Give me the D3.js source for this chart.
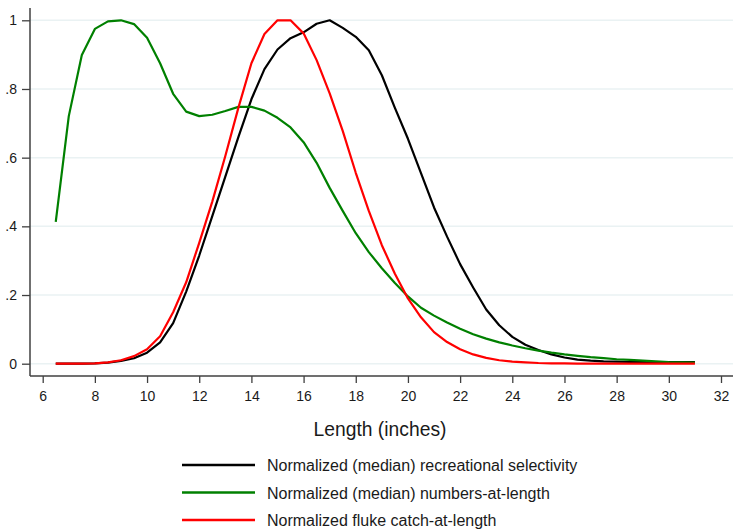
<!DOCTYPE html>
<html>
<head>
<meta charset="utf-8">
<script src="https://cdn.jsdelivr.net/npm/d3@7"></script>
<style>
    body { margin: 0; background: #fff; }
    text { font-family: "Liberation Sans", Arial, sans-serif; fill: #1a1a1a; }
</style>
</head>
<body>
<div id="chart"></div>
<script>
// lengths in inches (one point every half inch)
var lengths = [6.5, 7, 7.5, 8, 8.5, 9, 9.5, 10, 10.5, 11, 11.5, 12, 12.5, 13, 13.5, 14, 14.5, 15, 15.5, 16,
    16.5, 17, 17.5, 18, 18.5, 19, 19.5, 20, 20.5, 21, 21.5, 22, 22.5, 23, 23.5, 24, 24.5, 25, 25.5, 26,
    26.5, 27, 27.5, 28, 28.5, 29, 29.5, 30, 30.5, 31];

var selectivity = [0, 0, 0.0005, 0.001, 0.003, 0.008, 0.016, 0.032, 0.062, 0.118, 0.21, 0.315, 0.43, 0.545, 0.66, 0.77, 0.858, 0.915, 0.948, 0.965,
    0.99, 1.0, 0.978, 0.952, 0.913, 0.84, 0.745, 0.655, 0.555, 0.455, 0.37, 0.29, 0.222, 0.158, 0.112, 0.078, 0.055, 0.04, 0.027, 0.018,
    0.012, 0.009, 0.007, 0.006, 0.005, 0.005, 0.005, 0.005, 0.005, 0.005];

var numbersAtLength = [0.413, 0.721, 0.899, 0.975, 0.997, 1.0, 0.989, 0.949, 0.875, 0.786, 0.734, 0.721, 0.725, 0.736, 0.748, 0.748, 0.737, 0.716, 0.688, 0.645,
    0.585, 0.512, 0.445, 0.38, 0.325, 0.278, 0.235, 0.196, 0.163, 0.14, 0.12, 0.102, 0.086, 0.073, 0.062, 0.053, 0.045, 0.038, 0.032, 0.027,
    0.023, 0.019, 0.016, 0.013, 0.011, 0.009, 0.007, 0.005, 0.004, 0.003];

var catchAtLength = [0, 0, 0.0005, 0.001, 0.004, 0.01, 0.022, 0.042, 0.08, 0.15, 0.237, 0.352, 0.472, 0.605, 0.745, 0.875, 0.96, 1.0, 1.0, 0.962,
    0.884, 0.787, 0.678, 0.556, 0.445, 0.345, 0.262, 0.19, 0.135, 0.092, 0.063, 0.042, 0.027, 0.017, 0.01, 0.006, 0.004, 0.002, 0.001, 0.001,
    0, 0, 0, 0, 0, 0, 0, 0, 0, 0];

var xTicks = [6, 8, 10, 12, 14, 16, 18, 20, 22, 24, 26, 28, 30, 32];
var yTicks = [0, 0.2, 0.4, 0.6, 0.8, 1];
var yTickLabels = ["0", ".2", ".4", ".6", ".8", "1"];

var seriesNames = [
    "Normalized (median) recreational selectivity",
    "Normalized (median) numbers-at-length",
    "Normalized fluke catch-at-length"
];
var seriesColors = ["#000000", "#008000", "#ff0000"];

var series = [selectivity, numbersAtLength, catchAtLength];

// svg params
var svgWidth = 733;
var svgHeight = 530;

var svg = d3.select("#chart").append("svg")
    .attr("width", svgWidth)
    .attr("height", svgHeight);

// plot region edges (axis lines)
var axisLeftX = 30;
var axisBottomY = 376;

var xScale = d3.scaleLinear()
    .domain([6, 32])
    .range([42.7, 721]);

var yScale = d3.scaleLinear()
    .domain([0, 1])
    .range([363.7, 20.3]);

// grid lines
svg.append("g")
    .selectAll("line")
    .data(yTicks)
    .enter()
    .append("line")
    .attr("x1", axisLeftX)
    .attr("x2", svgWidth)
    .attr("y1", d => yScale(d))
    .attr("y2", d => yScale(d))
    .attr("stroke", "#eaf2f3")
    .attr("stroke-width", 1.5);

// y axis
var yAxis = d3.axisLeft(yScale)
    .tickValues(yTicks)
    .tickFormat((d, i) => yTickLabels[i])
    .tickSize(8)
    .tickPadding(5);

var yAxisG = svg.append("g")
    .attr("transform", `translate(${axisLeftX}, 0)`)
    .call(yAxis);
yAxisG.select(".domain").remove();
yAxisG.selectAll("line").attr("stroke", "#404040").attr("stroke-width", 1.3);
yAxisG.selectAll("text").attr("font-size", 14).attr("fill", "#1a1a1a")
    .attr("font-family", "Liberation Sans, Arial, sans-serif");

svg.append("line")
    .attr("x1", axisLeftX).attr("x2", axisLeftX)
    .attr("y1", 8).attr("y2", axisBottomY)
    .attr("stroke", "#404040").attr("stroke-width", 1.5);

// x axis
var xAxis = d3.axisBottom(xScale)
    .tickValues(xTicks)
    .tickSize(7)
    .tickPadding(8);

var xAxisG = svg.append("g")
    .attr("transform", `translate(0, ${axisBottomY})`)
    .call(xAxis);
xAxisG.select(".domain").remove();
xAxisG.selectAll("line").attr("stroke", "#404040").attr("stroke-width", 1.3);
xAxisG.selectAll("text").attr("font-size", 14).attr("fill", "#1a1a1a")
    .attr("font-family", "Liberation Sans, Arial, sans-serif");

svg.append("line")
    .attr("x1", axisLeftX).attr("x2", svgWidth)
    .attr("y1", axisBottomY).attr("y2", axisBottomY)
    .attr("stroke", "#404040").attr("stroke-width", 1.5);

// axis title
svg.append("text")
    .attr("x", 380)
    .attr("y", 435.5)
    .attr("text-anchor", "middle")
    .attr("font-size", 19.3)
    .text("Length (inches)");

// lines
var line = d3.line()
    .x((d, i) => xScale(lengths[i]))
    .y(d => yScale(d));

svg.append("g")
    .selectAll("path")
    .data(series)
    .enter()
    .append("path")
    .attr("d", d => line(d))
    .attr("fill", "none")
    .attr("stroke", (d, i) => seriesColors[i])
    .attr("stroke-width", 2.2)
    .attr("stroke-linejoin", "round");

// legend
var legend = svg.append("g")
    .selectAll("g")
    .data(seriesNames)
    .enter()
    .append("g")
    .attr("transform", (d, i) => `translate(0, ${465 + i * 27.5})`);

legend.append("line")
    .attr("x1", 182)
    .attr("x2", 255)
    .attr("stroke", (d, i) => seriesColors[i])
    .attr("stroke-width", 2.5);

legend.append("text")
    .attr("x", 267)
    .attr("y", 6)
    .attr("font-size", 16)
    .text(d => d);
</script>
</body>
</html>
